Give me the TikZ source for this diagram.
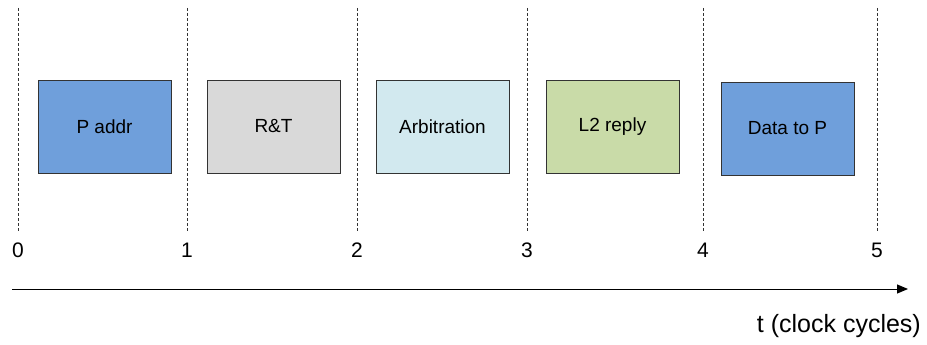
\documentclass[tikz,border=0pt]{standalone}
\usepackage{fontspec}
\setmainfont{Liberation Sans}
\usetikzlibrary{arrows.meta}
\definecolor{stepblue}{HTML}{6F9FDB}
\definecolor{stepgray}{HTML}{D9D9D9}
\definecolor{steplight}{HTML}{D2E9EF}
\definecolor{stepgreen}{HTML}{C9DBA8}
\begin{document}
\begin{tikzpicture}[x=1pt,y=-1pt,
  stage/.style={draw=black!80, line width=0.8pt, minimum width=133pt, minimum height=93pt,
    inner sep=0pt, font=\fontsize{19}{22}\selectfont},
  tick/.style={font=\fontsize{21}{25}\selectfont, inner sep=0pt},
  boundary/.style={dashed, dash pattern=on 3pt off 2pt, line width=0.6pt, black!80}]
  \useasboundingbox (0,0) rectangle (927,345);
  % cycle boundaries and their numbers
  \foreach \x/\n in {18/0,187/1,357/2,527/3,703/4,877/5}{
    \coordinate (top\n) at (\x,8);
    \coordinate (bot\n) at (\x,231);
    \draw[boundary] (top\n) -- (bot\n);
    \node[tick] (lab\n) at (\x,250) {\n};
  }
  % pipeline stages
  \node[stage, fill=stepblue]  (paddr) at (104.5,126.5) {P addr};
  \node[stage, fill=stepgray]  (rt)    at (273.5,126.5) {R\&T};
  \node[stage, fill=steplight] (arb)   at (442.5,126.5) {Arbitration};
  \node[stage, fill=stepgreen] (l2)    at (612.5,126.5) {L2 reply};
  \node[stage, fill=stepblue]  (data)  at (787.5,128.5) {Data to P};
  % time axis
  \coordinate (axs) at (12,289);
  \coordinate (axe) at (908,289);
  \draw[line width=1pt, -{Triangle[length=11pt,width=9pt]}] (axs) -- (axe);
  \node[font=\fontsize{25}{30}\selectfont, inner sep=0pt, anchor=east] (tlab) at (921,326) {t (clock cycles)};
\end{tikzpicture}
\end{document}
